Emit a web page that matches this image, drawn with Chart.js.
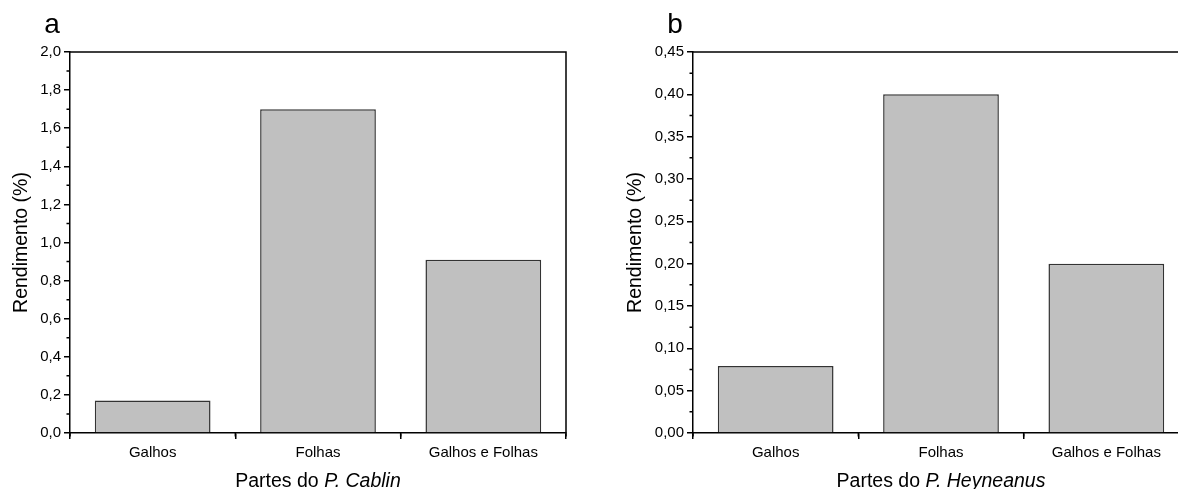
<!DOCTYPE html>
<html>
<head>
<meta charset="utf-8">
<script src="https://cdn.jsdelivr.net/npm/chart.js@4.4.0/dist/chart.umd.min.js"></script>
<style>
  html, body { margin: 0; padding: 0; background: #fff; overflow: hidden; width: 1178px; height: 489px; }
  .painel { position: absolute; top: 0; width: 600px; height: 489px; }
</style>
</head>
<body>
<div class="painel" style="left:0"><canvas id="graficoA" width="600" height="489"></canvas></div>
<div class="painel" style="left:623px"><canvas id="graficoB" width="600" height="489"></canvas></div>
<script>
// dados
const partes = ["Galhos", "Folhas", "Galhos e Folhas"];
const rendimentoCablin = [0.17, 1.70, 0.91];
const rendimentoHeyneanus = [0.079, 0.40, 0.20];
const ticksCablin = [0, 0.2, 0.4, 0.6, 0.8, 1.0, 1.2, 1.4, 1.6, 1.8, 2.0];
const ticksHeyneanus = [0, 0.05, 0.10, 0.15, 0.20, 0.25, 0.30, 0.35, 0.40, 0.45];

const fonte = '"Liberation Sans", Arial, sans-serif';
Chart.defaults.font.family = fonte;
Chart.defaults.color = "#000";

// moldura, ticks menores e títulos dos eixos
const moldura = {
  id: "moldura",
  afterDraw(chart, args, opts) {
    const { ctx, chartArea: a, scales: { x, y } } = chart;
    ctx.save();
    ctx.strokeStyle = "#000";
    ctx.lineWidth = 1.5;
    ctx.beginPath();
    ctx.moveTo(a.left, a.top);
    ctx.lineTo(a.right, a.top);
    ctx.lineTo(a.right, a.bottom);
    const t = opts.ticks;
    for (let i = 0; i < t.length - 1; i++) {
      const py = y.getPixelForValue((t[i] + t[i + 1]) / 2);
      ctx.moveTo(a.left, py);
      ctx.lineTo(a.left - 3.5, py);
    }
    for (let i = 0; i <= partes.length; i++) {
      const px = x.getPixelForValue(i - 0.5);
      ctx.moveTo(px, a.bottom);
      ctx.lineTo(px, a.bottom + 3.5);
    }
    ctx.stroke();

    ctx.fillStyle = "#000";
    // título eixo x (espécie em itálico)
    const normal = "19.5px " + fonte;
    const italico = "italic 19.5px " + fonte;
    ctx.font = normal;
    const w1 = ctx.measureText("Partes do ").width;
    ctx.font = italico;
    const w2 = ctx.measureText(opts.especie).width;
    const sx = (a.left + a.right) / 2 - (w1 + w2) / 2;
    ctx.textAlign = "left";
    ctx.textBaseline = "alphabetic";
    ctx.font = normal;
    ctx.fillText("Partes do ", sx, 487);
    ctx.font = italico;
    ctx.fillText(opts.especie, sx + w1, 487);

    // título eixo y
    ctx.save();
    ctx.translate(opts.tituloX, (a.top + a.bottom) / 2);
    ctx.rotate(-Math.PI / 2);
    ctx.font = normal;
    ctx.textAlign = "center";
    ctx.fillText("Rendimento (%)", 0, 0);
    ctx.restore();

    // letra do painel
    ctx.font = "28px " + fonte;
    ctx.textAlign = "center";
    ctx.fillText(opts.letra, 52, 33);
    ctx.restore();
  }
};

function criarGrafico(id, valores, ticks, casas, letra, especie, tituloX) {
  return new Chart(document.getElementById(id), {
    type: "bar",
    data: {
      labels: partes,
      datasets: [{
        data: valores,
        backgroundColor: "#c0c0c0",
        borderColor: "#333",
        borderWidth: 1.5,
        categoryPercentage: 1,
        barPercentage: 0.7
      }]
    },
    options: {
      responsive: false,
      animation: false,
      layout: { padding: { left: 0, top: 52, right: 34, bottom: 0 } },
      plugins: {
        legend: { display: false },
        tooltip: { enabled: false },
        moldura: { ticks: ticks, letra: letra, especie: especie, tituloX: tituloX }
      },
      scales: {
        x: {
          afterFit: s => { s.height = 56; },
          ticks: { color: "#000", font: { size: 15 }, padding: 5, maxRotation: 0, autoSkip: false },
          grid: { drawOnChartArea: false, tickLength: 6, color: "#000", lineWidth: 1.5 },
          border: { display: true, color: "#000", width: 1.5 }
        },
        y: {
          min: 0,
          max: ticks[ticks.length - 1],
          afterFit: s => { s.width = 70; },
          afterBuildTicks: s => { s.ticks = ticks.map(v => ({ value: v })); },
          ticks: {
            color: "#000",
            font: { size: 15 },
            padding: 3,
            callback: v => v.toFixed(casas).replace(".", ",")
          },
          grid: { drawOnChartArea: false, tickLength: 6, color: "#000", lineWidth: 1.5 },
          border: { display: true, color: "#000", width: 1.5 }
        }
      }
    },
    plugins: [moldura]
  });
}

criarGrafico("graficoA", rendimentoCablin, ticksCablin, 1, "a", "P. Cablin", 27);
criarGrafico("graficoB", rendimentoHeyneanus, ticksHeyneanus, 2, "b", "P. Heyneanus", 18);
</script>
</body>
</html>
